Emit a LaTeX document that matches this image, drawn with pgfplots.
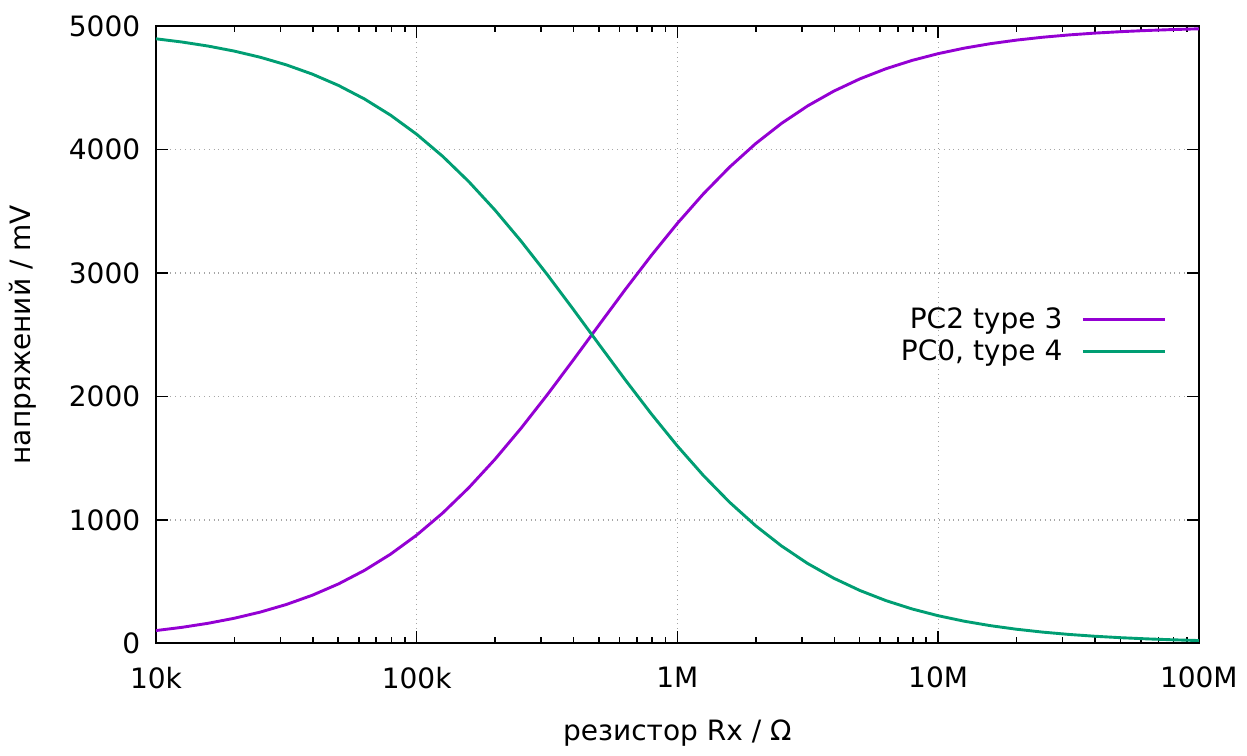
\documentclass[border={0pt 0pt 0pt 3pt}]{standalone}
\usepackage{fontspec}
\setmainfont{DejaVu Sans}
\usepackage{pgfplots}
\pgfplotsset{compat=1.18}
\definecolor{pcviolet}{HTML}{9400D3}
\definecolor{pcgreen}{HTML}{009E73}
\begin{document}
\fontsize{14}{16}\selectfont
\begin{tikzpicture}
\begin{axis}[
  scale only axis,
  width=521pt, height=308.5pt,
  xmode=log,
  xmin=10, xmax=100000,
  ymin=0, ymax=5000,
  xtick={10,100,1000,10000,100000},
  xticklabels={10k,100k,1M,10M,100M},
  ytick={0,1000,2000,3000,4000,5000},
  yticklabel style={/pgf/number format/fixed,/pgf/number format/1000 sep={}, xshift=-3pt},
  xticklabel style={yshift=-7pt},
  /pgf/number format/assume math mode=true,
  scaled y ticks=false,
  tick label style={font=\fontsize{14}{16}\selectfont},
  label style={font=\fontsize{14}{16}\selectfont},
  tick align=inside,
  major tick length=6pt,
  minor tick length=3pt,
  tick style={black, line width=0.8pt},
  axis line style={line width=1pt},
  grid=major,
  major grid style={gray!70, dotted, line width=0.6pt},
  xlabel={резистор Rx / Ω},
  ylabel={напряжений / mV},
  xlabel style={at={(axis description cs:0.5,-0.145)}, anchor=center},
  ylabel style={at={(axis description cs:-0.1276,0.5)}, anchor=center, rotate=0},
  legend cell align=right,
  legend plot pos=right,
  legend style={at={(0.975,0.498)}, anchor=east, draw=none, fill=none, row sep=-0.5pt,
    font=\fontsize{14}{16}\selectfont},
  legend image code/.code={\path (0pt,0pt); \draw[#1] (7.5pt,0pt) -- (48.5pt,0pt);},
]
\addplot[pcviolet, line width=1.45pt] coordinates {
(10,104.17) (12.589,130.43) (15.849,163.11) (19.953,203.62) (25.119,253.67)
(31.623,315.21) (39.811,390.45) (50.119,481.80) (63.096,591.79) (79.433,722.86)
(100,877.19) (125.89,1056.3) (158.49,1260.9) (199.53,1490.1) (251.19,1741.5)
(316.23,2011.0) (398.11,2292.9) (501.19,2580.3) (630.96,2865.5) (794.33,3141.3)
(1000,3401.4) (1258.9,3640.8) (1584.9,3856.4) (1995.3,4046.7) (2511.9,4211.9)
(3162.3,4353.0) (3981.1,4472.0) (5011.9,4571.3) (6309.6,4653.4) (7943.3,4720.7)
(10000,4775.5) (12589,4820.0) (15849,4856.0) (19953,4884.9) (25119,4908.2)
(31623,4926.8) (39811,4941.7) (50119,4953.5) (63096,4963.0) (79433,4970.6)
(100000,4976.6)
};
\addlegendentry{PC2 type 3}
\addplot[pcgreen, line width=1.45pt] coordinates {
(10,4895.83) (12.589,4869.57) (15.849,4836.89) (19.953,4796.38) (25.119,4746.33)
(31.623,4684.79) (39.811,4609.55) (50.119,4518.20) (63.096,4408.21) (79.433,4277.14)
(100,4122.81) (125.89,3943.7) (158.49,3739.1) (199.53,3509.9) (251.19,3258.5)
(316.23,2989.0) (398.11,2707.1) (501.19,2419.7) (630.96,2134.5) (794.33,1858.7)
(1000,1598.6) (1258.9,1359.2) (1584.9,1143.6) (1995.3,953.3) (2511.9,788.1)
(3162.3,647.0) (3981.1,528.0) (5011.9,428.7) (6309.6,346.6) (7943.3,279.3)
(10000,224.5) (12589,180.0) (15849,144.0) (19953,115.1) (25119,91.8)
(31623,73.2) (39811,58.3) (50119,46.5) (63096,37.0) (79433,29.4)
(100000,23.4)
};
\addlegendentry{PC0, type 4}
\end{axis}
\end{tikzpicture}
\end{document}
